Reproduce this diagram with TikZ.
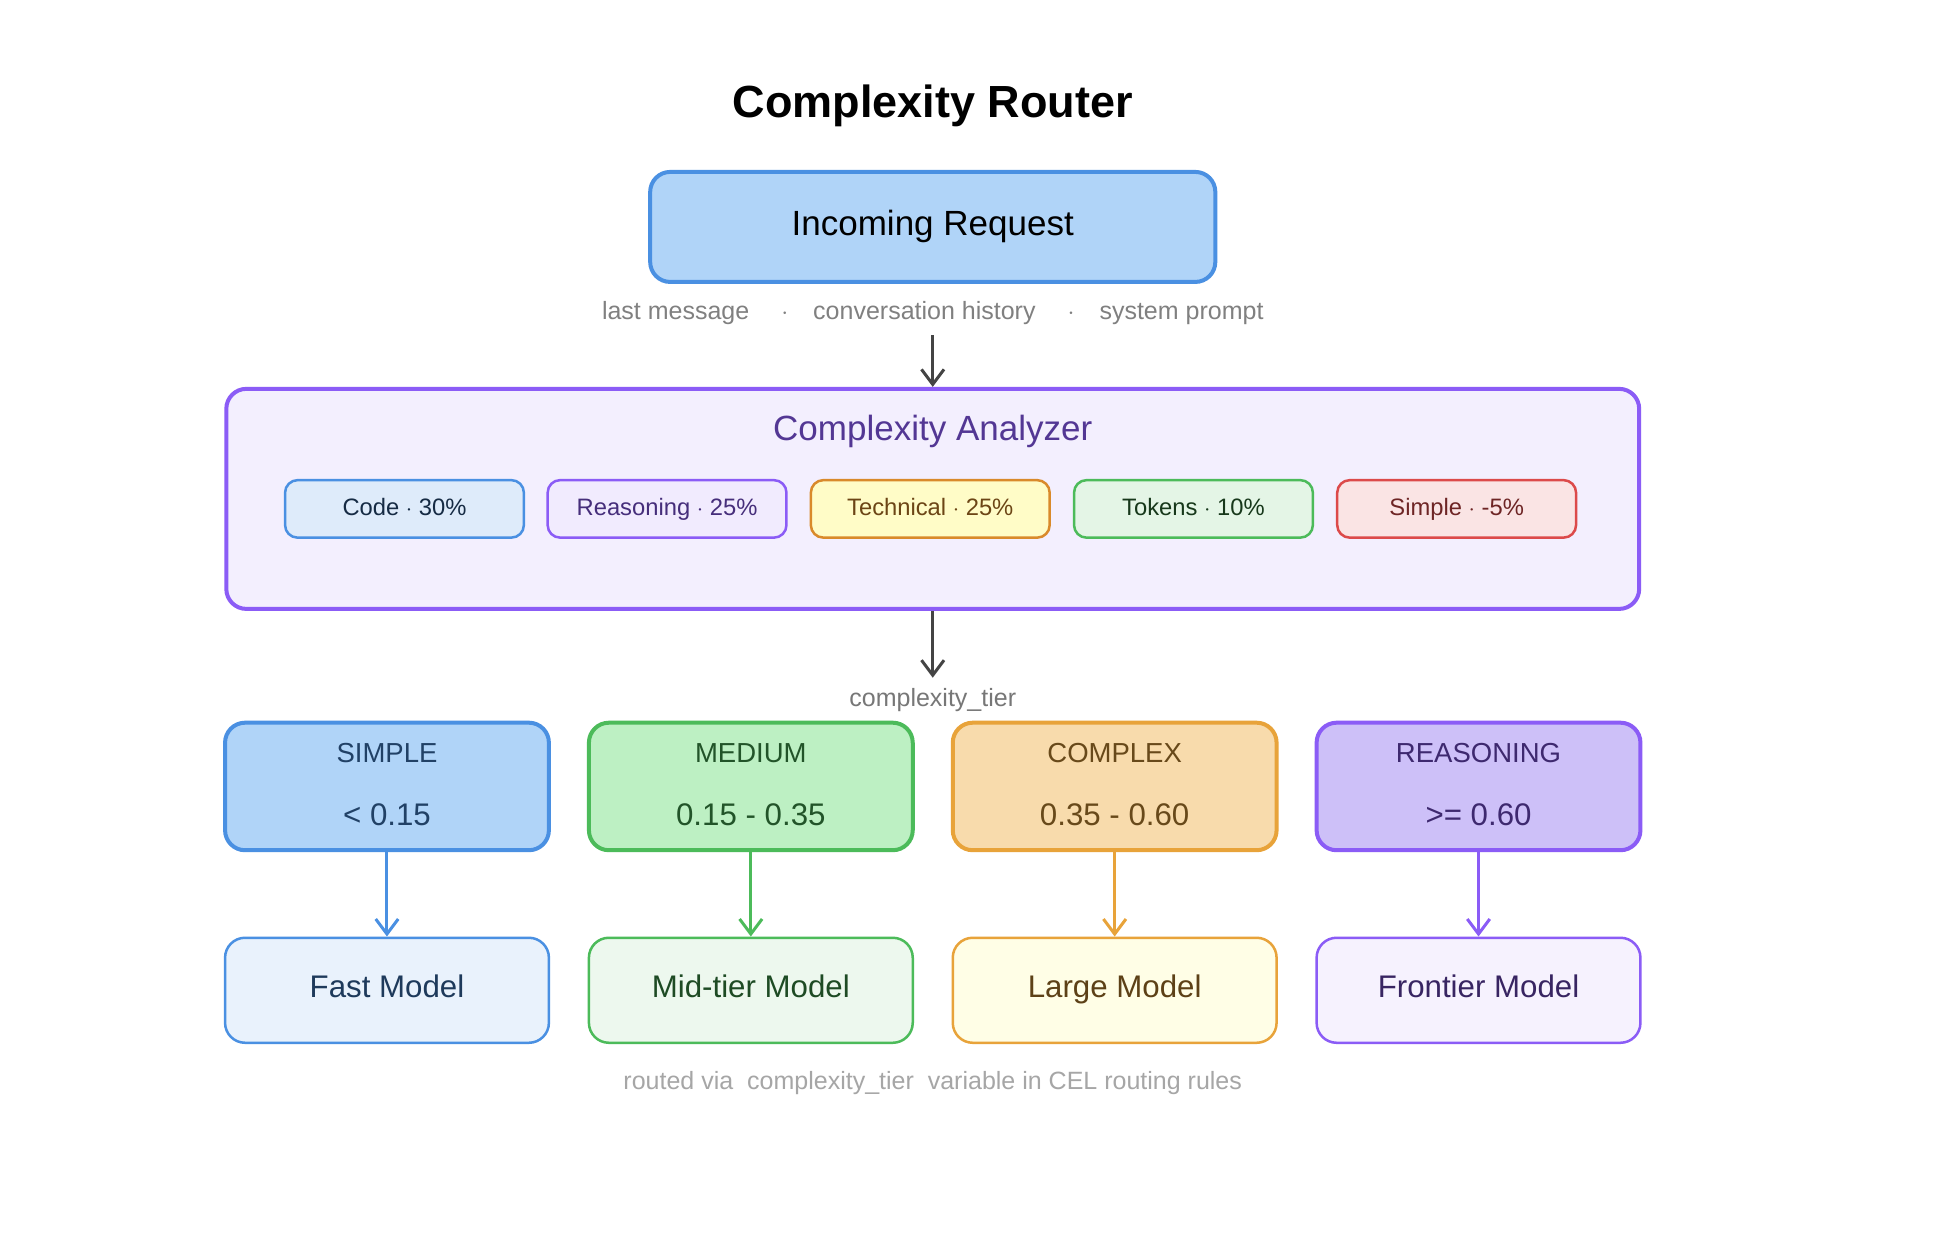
\documentclass[tikz,border=0pt]{standalone}
\usepackage{fontspec}
\usetikzlibrary{arrows.meta}
\setmainfont{Liberation Sans}
\begin{document}
\begin{tikzpicture}[x=0.5pt,y=-0.5pt,
 box/.style={draw, line width=1.6pt, rounded corners=8pt},
 chip/.style={draw, line width=1pt, rounded corners=5pt, minimum width=95.5pt, minimum height=23pt, text height=7pt, text depth=2pt, font=\fontsize{9.5}{11}\selectfont},
 tier/.style={draw, line width=1.6pt, rounded corners=8pt, minimum width=129.5pt, minimum height=51pt},
 model/.style={draw, line width=1pt, rounded corners=8pt, minimum width=129.5pt, minimum height=42pt, text height=9pt, text depth=3pt, font=\fontsize{12.5}{14}\selectfont},
 arr/.style={-{Straight Barb[length=6pt,width=9pt]}, line width=1.2pt}]
\definecolor{bB}{HTML}{4A90E2}\definecolor{fB}{HTML}{B0D4F8}
\definecolor{bP}{HTML}{8B5CF6}\definecolor{fP}{HTML}{CDC0F8}
\definecolor{bG}{HTML}{4CBB5A}\definecolor{fG}{HTML}{BDF0C3}
\definecolor{bO}{HTML}{E8A33A}\definecolor{fO}{HTML}{F8DBAC}
\definecolor{bR}{HTML}{DC4A4A}\definecolor{bY}{HTML}{D98A2B}
\definecolor{gr}{HTML}{777777}\definecolor{dk}{HTML}{444444}
\useasboundingbox (0,0) rectangle (1550,990);
\fill[white] (0,0) rectangle (1550,990);
\node[font=\bfseries\fontsize{18}{20}\selectfont] (title) at (746,85) {Complexity Router};
\node[box, draw=bB, fill=fB, minimum width=226pt, minimum height=44pt, font=\fontsize{14}{16}\selectfont] (req) at (746,181.5) {Incoming Request};
\node[text=gray, font=\fontsize{10}{12}\selectfont] (ctx) at (746,250) {last message \quad$\cdot$\quad conversation history \quad$\cdot$\quad system prompt};
\node[box, draw=bP, fill=bP!10, minimum width=565pt, minimum height=88pt] (an) at (746,399) {};
\node[text=bP!60!black, font=\fontsize{14}{16}\selectfont] (ant) at (746,345) {Complexity Analyzer};
\coordinate (a1) at (746,268);
\draw[arr, dk] (a1) -- (an.north);
\node[chip, draw=bB, fill=bB!18, text=bB!30!black] (c1) at (323.5,407) {Code $\cdot$ 30\%};
\node[chip, draw=bP, fill=bP!12, text=bP!50!black] (c2) at (533.5,407) {Reasoning $\cdot$ 25\%};
\node[chip, draw=bY, fill=yellow!22, text=bY!50!black] (c3) at (744,407) {Technical $\cdot$ 25\%};
\node[chip, draw=bG, fill=bG!15, text=bG!30!black] (c4) at (954.5,407) {Tokens $\cdot$ 10\%};
\node[chip, draw=bR, fill=bR!15, text=bR!50!black] (c5) at (1165,407) {Simple $\cdot$ -5\%};
\node[text=gr, font=\fontsize{10}{12}\selectfont] (ct) at (746,560) {complexity\_tier};
\coordinate (a2) at (746,542);
\draw[arr, dk] (an.south) -- (a2);
\foreach \n/\x/\b/\f/\t/\v/\m/\mf in {s/309.5/bB/fB/SIMPLE/{< 0.15}/Fast Model/bB!12,
 m/600.5/bG/fG/MEDIUM/{0.15 - 0.35}/Mid-tier Model/bG!10,
 c/891.5/bO/fO/COMPLEX/{0.35 - 0.60}/Large Model/yellow!10,
 r/1182.5/bP/fP/REASONING/{>= 0.60}/Frontier Model/bP!8}{
 \node[tier, draw=\b, fill=\f] (t\n) at (\x,629) {};
 \node[text=\b!45!black, font=\fontsize{11}{13}\selectfont] (tl\n) at (\x,602) {\t};
 \node[text=\b!45!black, font=\fontsize{12.5}{14}\selectfont] (tv\n) at (\x,652) {\v};
 \node[model, draw=\b, fill=\mf, text=\b!40!black] (mo\n) at (\x,792) {\m};
 \draw[arr, \b] (t\n.south) -- (mo\n.north);
}
\node[text=gray!70, font=\fontsize{10}{12}\selectfont] (foot) at (746,866) {routed via \ complexity\_tier \ variable in CEL routing rules};
\end{tikzpicture}
\end{document}
